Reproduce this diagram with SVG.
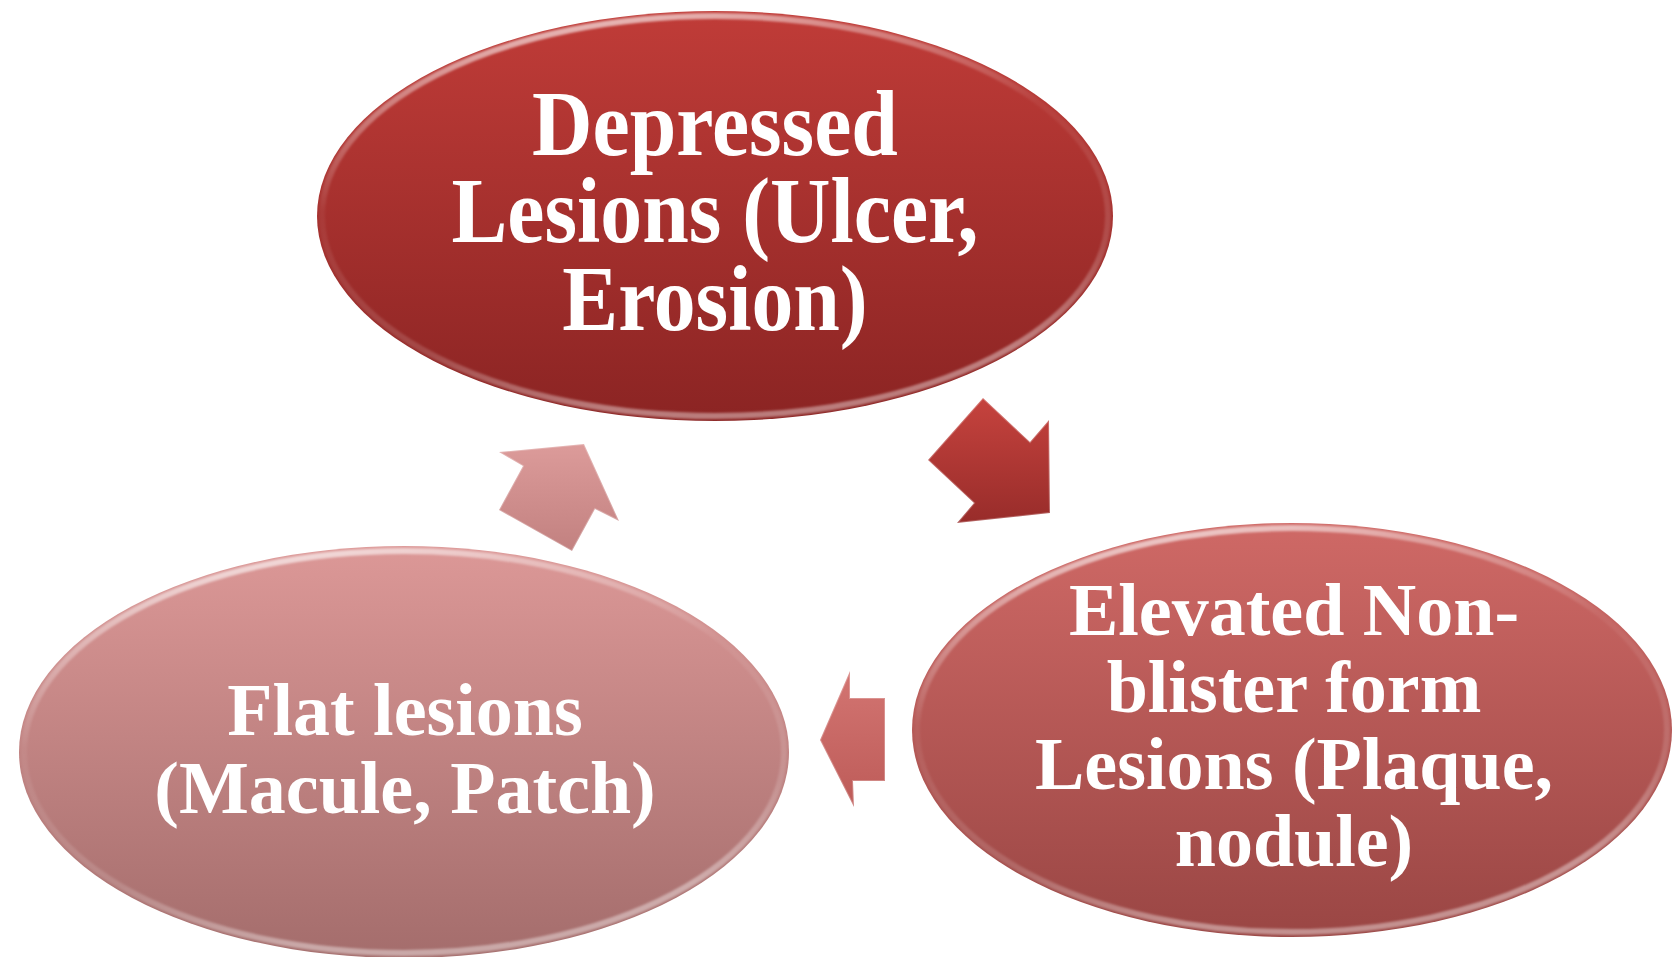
<svg xmlns="http://www.w3.org/2000/svg" width="1673" height="957" viewBox="0 0 1673 957">
  <style>
    .lbl { font-family: "Liberation Serif", "Times New Roman", serif; font-weight: bold; fill: #ffffff; text-anchor: middle; }
    .top { font-size: 93px; }
    .side { font-size: 74px; }
    .rim { fill: none; stroke: url(#rimGrad); stroke-width: 6; filter: url(#soft); }
    .arrowRim { fill: none; stroke: #ffffff; stroke-opacity: 0.25; stroke-width: 2; stroke-linejoin: miter; }
  </style>
  <defs>
    <linearGradient id="gTop" x1="0" y1="0" x2="0" y2="1">
      <stop offset="0" stop-color="#c03c38"/>
      <stop offset="1" stop-color="#8b2423"/>
    </linearGradient>
    <linearGradient id="gRight" x1="0" y1="0" x2="0" y2="1">
      <stop offset="0" stop-color="#cf6966"/>
      <stop offset="1" stop-color="#9a4644"/>
    </linearGradient>
    <linearGradient id="gLeft" x1="0" y1="0" x2="0" y2="1">
      <stop offset="0" stop-color="#dc9897"/>
      <stop offset="1" stop-color="#a46d6c"/>
    </linearGradient>
    <linearGradient id="gA1" x1="0" y1="0" x2="0" y2="1">
      <stop offset="0" stop-color="#c6433e"/>
      <stop offset="1" stop-color="#982c2a"/>
    </linearGradient>
    <linearGradient id="gA2" x1="0" y1="0" x2="0" y2="1">
      <stop offset="0" stop-color="#dc9b9a"/>
      <stop offset="1" stop-color="#c28180"/>
    </linearGradient>
    <linearGradient id="gA3" x1="0" y1="0" x2="0" y2="1">
      <stop offset="0" stop-color="#d37572"/>
      <stop offset="1" stop-color="#bd5b58"/>
    </linearGradient>
    <linearGradient id="rimGrad" x1="0" y1="0" x2="0.3" y2="1">
      <stop offset="0" stop-color="#ffffff" stop-opacity="0.9"/>
      <stop offset="0.2" stop-color="#ffffff" stop-opacity="0.4"/>
      <stop offset="0.45" stop-color="#ffffff" stop-opacity="0.05"/>
      <stop offset="0.8" stop-color="#ffffff" stop-opacity="0.15"/>
      <stop offset="1" stop-color="#ffffff" stop-opacity="0.4"/>
    </linearGradient>
    <filter id="soft" x="-5%" y="-5%" width="110%" height="110%">
      <feGaussianBlur stdDeviation="1.2"/>
    </filter>
  </defs>

  <rect x="0" y="0" width="1673" height="957" fill="#ffffff"/>

  <g id="connectors">
    <g id="arrow-depressed-to-elevated">
      <polygon points="983,398 1030,442 1049,420 1050,513 957,523 974,503 928,460" fill="url(#gA1)"/>
      <polygon class="arrowRim" points="983,398 1030,442 1049,420 1050,513 957,523 974,503 928,460"/>
    </g>
    <g id="arrow-elevated-to-flat">
      <polygon points="820,740 850,671 850,698 885,698 885,781 853,781 854,807" fill="url(#gA3)"/>
      <polygon class="arrowRim" points="820,740 850,671 850,698 885,698 885,781 853,781 854,807"/>
    </g>
    <g id="arrow-flat-to-depressed">
      <polygon points="499,452 584,444 619,521 595,509 572,551 499,510 523,466" fill="url(#gA2)"/>
      <polygon class="arrowRim" points="499,452 584,444 619,521 595,509 572,551 499,510 523,466"/>
    </g>
  </g>

  <g id="node-depressed">
    <ellipse cx="715" cy="216" rx="398" ry="205" fill="url(#gTop)"/>
    <ellipse class="rim" cx="715" cy="216" rx="393" ry="200"/>
    <text class="lbl top" x="0" y="155" transform="translate(715 0) scale(0.9 1)">Depressed</text>
    <text class="lbl top" x="0" y="242" transform="translate(715 0) scale(0.9 1)">Lesions (Ulcer,</text>
    <text class="lbl top" x="0" y="330" transform="translate(715 0) scale(0.9 1)">Erosion)</text>
  </g>

  <g id="node-elevated">
    <ellipse cx="1292" cy="730" rx="380" ry="207" fill="url(#gRight)"/>
    <ellipse class="rim" cx="1292" cy="730" rx="375" ry="202"/>
    <text class="lbl side" x="1294" y="635">Elevated Non-</text>
    <text class="lbl side" x="1294" y="712">blister form</text>
    <text class="lbl side" x="1294" y="789">Lesions (Plaque,</text>
    <text class="lbl side" x="1294" y="866">nodule)</text>
  </g>

  <g id="node-flat">
    <ellipse cx="404" cy="752" rx="385" ry="206" fill="url(#gLeft)"/>
    <ellipse class="rim" cx="404" cy="752" rx="380" ry="201"/>
    <text class="lbl side" x="405" y="735">Flat lesions</text>
    <text class="lbl side" x="405" y="813">(Macule, Patch)</text>
  </g>
</svg>
